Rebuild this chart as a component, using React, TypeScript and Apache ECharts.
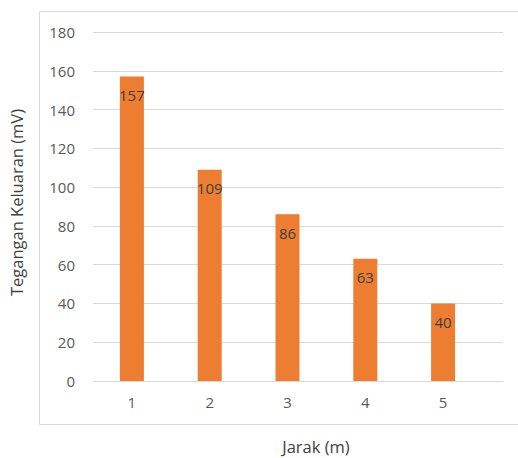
import React, { useEffect, useRef } from "react";
import * as echarts from "echarts";

const categories = [1, 2, 3, 4, 5];
const values = [157, 109, 86, 63, 40];
const yTicks = [0, 20, 40, 60, 80, 100, 120, 140, 160, 180];

export default function App() {
  const ref = useRef<HTMLDivElement>(null);
  useEffect(() => {
    if (!ref.current) return;
    const chart = echarts.init(ref.current, null, { renderer: "svg" });
    const font = "'Open Sans', 'Segoe UI', sans-serif";
    chart.setOption({
      animation: false,
      backgroundColor: "#ffffff",
      textStyle: { fontFamily: font },
      grid: { left: 93, right: 15, top: 32, bottom: 77, containLabel: false },
      xAxis: {
        type: "value",
        min: 0.5,
        max: 5.77,
        axisLine: { show: true, lineStyle: { color: "#d9d9d9", width: 1 } },
        axisTick: { show: false },
        splitLine: { show: false },
        axisLabel: {
          customValues: categories,
          color: "#595959",
          fontSize: 15,
          margin: 13,
          fontFamily: font,
        },
      },
      yAxis: {
        type: "value",
        min: 0,
        max: 180,
        interval: 20,
        name: "Tegangan Keluaran (mV)",
        nameLocation: "middle",
        nameGap: 68,
        nameTextStyle: { color: "#404040", fontSize: 16.5, fontFamily: font, padding: [0, 0, 0, 8] },
        axisLine: { show: false },
        axisTick: { show: false },
        splitLine: { lineStyle: { color: "#d9d9d9", width: 1 } },
        axisLabel: {
          color: "#595959",
          fontSize: 15,
          margin: 18,
          fontFamily: font,
          formatter: (v: number) => (yTicks.includes(v) ? String(v) : ""),
        },
      },
      series: [
        {
          type: "bar",
          data: categories.map((c, i) => [c, values[i]]),
          barWidth: 24,
          itemStyle: { color: "#ED7D31" },
          label: {
            show: true,
            position: "insideTop",
            distance: 11,
            color: "#404040",
            fontSize: 15,
            fontFamily: font,
          },
        },
      ],
      graphic: [
        {
          type: "rect",
          shape: { x: 39.5, y: 11.5, width: 600, height: 413 },
          style: { fill: "none", stroke: "#d9d9d9", lineWidth: 1 },
          silent: true,
        },
        {
          type: "text",
          x: 316,
          y: 446,
          style: {
            text: "Jarak (m)",
            fill: "#404040",
            fontSize: 16.5,
            fontFamily: font,
            align: "center",
            verticalAlign: "middle",
          },
        },
      ],
    });
    return () => chart.dispose();
  }, []);
  return (
    <div
      ref={ref}
      style={{ position: "fixed", left: 0, top: 0, width: 518, height: 458 }}
    />
  );
}
